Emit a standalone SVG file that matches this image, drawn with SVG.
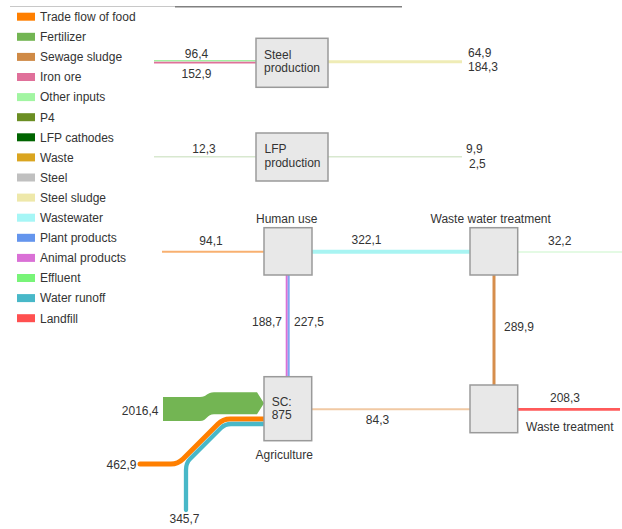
<svg xmlns="http://www.w3.org/2000/svg" width="622" height="529" viewBox="0 0 622 529">
  <style>
    text { font-family: "Liberation Sans", Arial, sans-serif; font-size: 12px; fill: #333; }
    .box { fill: #e8e8e8; stroke: #9a9a9a; stroke-width: 1.5; }
    .flow { fill: none; }
    .mid { text-anchor: middle; }
    .end { text-anchor: end; }
  </style>

  <!-- header rule -->
  <line x1="10" y1="6.5" x2="175" y2="6.5" stroke="#c8c8c8" stroke-width="1"/>
  <line x1="175" y1="6.8" x2="402" y2="6.8" stroke="#808080" stroke-width="1.5"/>

  <!-- legend -->
  <g id="legend">
    <rect x="17" y="12.7" width="18" height="8" fill="#ff7f00"/><text x="40" y="21">Trade flow of food</text>
    <rect x="17" y="32.8" width="18" height="8" fill="#73b553"/><text x="40" y="41.1">Fertilizer</text>
    <rect x="17" y="52.9" width="18" height="8" fill="#cf8a46"/><text x="40" y="61.2">Sewage sludge</text>
    <rect x="17" y="73" width="18" height="8" fill="#e0709a"/><text x="40" y="81.3">Iron ore</text>
    <rect x="17" y="93.1" width="18" height="8" fill="#a2f5a2"/><text x="40" y="101.4">Other inputs</text>
    <rect x="17" y="113.2" width="18" height="8" fill="#6b8e23"/><text x="40" y="121.5">P4</text>
    <rect x="17" y="133.3" width="18" height="8" fill="#006400"/><text x="40" y="141.6">LFP cathodes</text>
    <rect x="17" y="153.4" width="18" height="8" fill="#daa520"/><text x="40" y="161.7">Waste</text>
    <rect x="17" y="173.5" width="18" height="8" fill="#c0c0c0"/><text x="40" y="181.8">Steel</text>
    <rect x="17" y="193.6" width="18" height="8" fill="#eee8aa"/><text x="40" y="201.9">Steel sludge</text>
    <rect x="17" y="213.7" width="18" height="8" fill="#a6f6f6"/><text x="40" y="222">Wastewater</text>
    <rect x="17" y="233.8" width="18" height="8" fill="#6495ed"/><text x="40" y="242.1">Plant products</text>
    <rect x="17" y="253.9" width="18" height="8" fill="#da70d6"/><text x="40" y="262.2">Animal products</text>
    <rect x="17" y="274" width="18" height="8" fill="#78f478"/><text x="40" y="282.3">Effluent</text>
    <rect x="17" y="294.1" width="18" height="8" fill="#48b8c8"/><text x="40" y="302.4">Water runoff</text>
    <rect x="17" y="314.2" width="18" height="8" fill="#ff5050"/><text x="40" y="322.5">Landfill</text>
  </g>

  <!-- flows -->
  <g id="connectors" class="flow">
    <!-- steel production -->
    <line x1="154" y1="60.8" x2="256" y2="60.8" stroke="#a2f0a2" stroke-width="1.5"/>
    <line x1="154" y1="62.6" x2="256" y2="62.6" stroke="#e0709a" stroke-width="1.8"/>
    <line x1="328" y1="61.7" x2="462" y2="61.7" stroke="#efecb6" stroke-width="3"/>
    <!-- LFP production -->
    <line x1="154" y1="156.8" x2="256" y2="156.8" stroke="#d8e8cf" stroke-width="1.5"/>
    <line x1="328" y1="156.8" x2="462" y2="156.8" stroke="#d8e8cf" stroke-width="1.5"/>
    <!-- human use -->
    <line x1="162" y1="251.7" x2="264" y2="251.7" stroke="#f8b070" stroke-width="2"/>
    <line x1="312" y1="251.7" x2="470" y2="251.7" stroke="#a8f4f2" stroke-width="4"/>
    <line x1="286.7" y1="275" x2="286.7" y2="377" stroke="#da70d6" stroke-width="2"/>
    <line x1="288.7" y1="275" x2="288.7" y2="377" stroke="#7fa6f2" stroke-width="2"/>
    <!-- waste water treatment -->
    <line x1="518" y1="252" x2="622" y2="252" stroke="#e4fae4" stroke-width="2"/>
    <line x1="494" y1="275" x2="494" y2="385" stroke="#d68e4c" stroke-width="3"/>
    <!-- waste treatment -->
    <line x1="312" y1="409.3" x2="470" y2="409.3" stroke="#f1c9a3" stroke-width="2"/>
    <line x1="518" y1="409.3" x2="620" y2="409.3" stroke="#ff5a5a" stroke-width="2.7"/>
    <!-- agriculture inputs -->
    <path d="M163,397 H200 C207,397 207,392.3 214,392.3 H257 L264,403.3 L257,414.3 H214 C207,414.3 207,421 200,421 H163 Z" fill="#73b553"/>
    <path d="M140,464 H171 Q178,464 183,459 L218,424 Q223,419 230,419 H264" stroke="#ff7f00" stroke-width="5" stroke-linecap="round"/>
    <path d="M186,510 V470 Q186,463 190,459 L221,428 Q225,424 231,424 H264" stroke="#48b8c8" stroke-width="4.3" stroke-linecap="round"/>
  </g>

  <!-- flow values -->
  <g id="values">
    <text x="196.5" y="57.5" class="mid">96,4</text>
    <text x="196.5" y="78" class="mid">152,9</text>
    <text x="468" y="56.5">64,9</text>
    <text x="468" y="70.5">184,3</text>
    <text x="204" y="152.7" class="mid">12,3</text>
    <text x="466" y="153">9,9</text>
    <text x="469" y="168">2,5</text>
    <text x="211" y="245" class="mid">94,1</text>
    <text x="366.5" y="243.5" class="mid">322,1</text>
    <text x="282" y="325.5" class="end">188,7</text>
    <text x="294" y="325.5">227,5</text>
    <text x="548" y="245">32,2</text>
    <text x="504" y="331">289,9</text>
    <text x="550" y="401.5">208,3</text>
    <text x="377.5" y="424" class="mid">84,3</text>
    <text x="158.5" y="414.5" class="end">2016,4</text>
    <text x="136.5" y="468.5" class="end">462,9</text>
    <text x="184.5" y="523" class="mid">345,7</text>
  </g>

  <!-- nodes -->
  <g id="steel-production">
    <rect class="box" x="256" y="38.3" width="72" height="49"/>
    <text x="264" y="58.5">Steel</text>
    <text x="264" y="72">production</text>
  </g>
  <g id="lfp-production">
    <rect class="box" x="256" y="133" width="72" height="48"/>
    <text x="264.5" y="152.7">LFP</text>
    <text x="264.5" y="166.5">production</text>
  </g>
  <g id="human-use">
    <rect class="box" x="264" y="227.7" width="48" height="47.3"/>
    <text x="286.7" y="223.3" class="mid">Human use</text>
  </g>
  <g id="waste-water-treatment">
    <rect class="box" x="470" y="227.7" width="47.7" height="47.3"/>
    <text x="490.7" y="223.3" class="mid">Waste water treatment</text>
  </g>
  <g id="agriculture">
    <rect class="box" x="264" y="376.7" width="47.7" height="64"/>
    <text x="271.7" y="405.7">SC:</text>
    <text x="271.7" y="419">875</text>
    <text x="284.3" y="459" class="mid">Agriculture</text>
  </g>
  <g id="waste-treatment">
    <rect class="box" x="470" y="385" width="47.7" height="47.7"/>
    <text x="526" y="430.7">Waste treatment</text>
  </g>
</svg>
